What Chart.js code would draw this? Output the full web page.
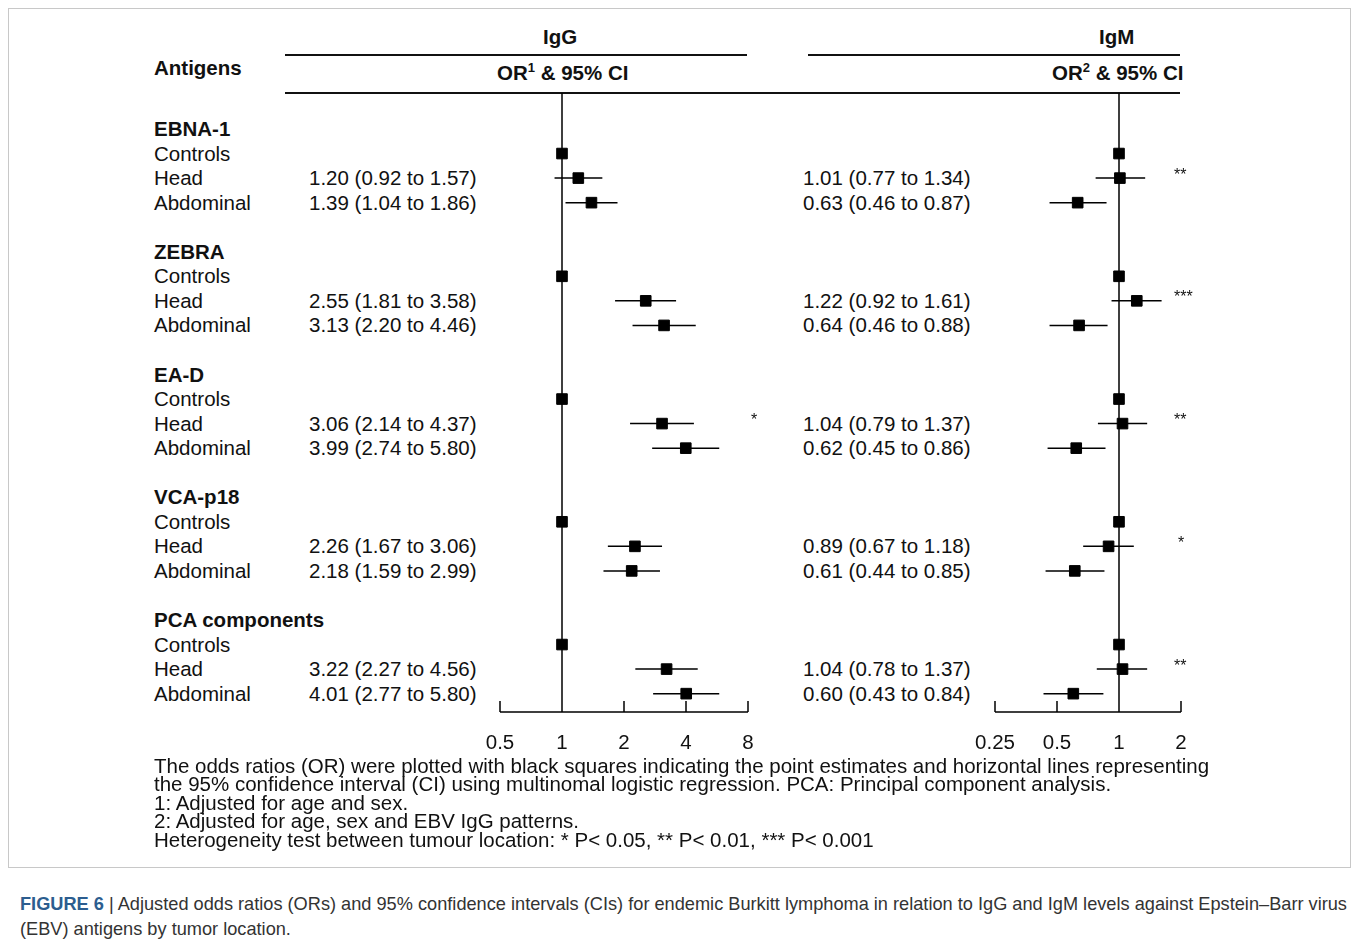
<!DOCTYPE html>
<html><head><meta charset="utf-8">
<script src="https://cdn.jsdelivr.net/npm/chart.js@4"></script>
<style>
body{margin:0;width:1358px;height:945px;background:#fff;font-family:"Liberation Sans",Arial,sans-serif;position:relative;overflow:hidden}
.t{position:absolute;font-size:20.5px;line-height:24px;color:#111;white-space:nowrap}
.b{font-weight:bold}
#frame{position:absolute;left:8px;top:8px;width:1341px;height:858px;border:1px solid #c8c8c8}
.hl{position:absolute;height:1.5px;background:#111}
canvas{position:absolute}
#notes{position:absolute;left:154px;top:757px;font-size:20.5px;line-height:18.4px;color:#111;white-space:nowrap}
#cap{position:absolute;left:20px;top:892px;font-size:18.2px;line-height:25px;color:#333;width:1335px}
</style></head><body>
<div id="frame"></div>
<div id="txt"></div>
<div class="hl" style="left:285px;top:54px;width:462px"></div>
<div class="hl" style="left:808px;top:54px;width:372px"></div>
<div class="hl" style="left:285px;top:92px;width:895px"></div>
<div class="t b" style="left:543px;top:25px">IgG</div>
<div class="t b" style="left:1099px;top:25px">IgM</div>
<div class="t b" style="left:154px;top:56px">Antigens</div>
<div class="t b" style="left:497px;top:56px">OR<sup style="font-size:13px">1</sup> &amp; 95% CI</div>
<div class="t b" style="left:1052px;top:56px">OR<sup style="font-size:13px">2</sup> &amp; 95% CI</div>
<canvas id="g"></canvas>
<canvas id="m"></canvas>
<div id="notes">The odds ratios (OR) were plotted with black squares indicating the point estimates and horizontal lines representing<br>the 95% confidence interval (CI) using multinomal logistic regression. PCA: Principal component analysis.<br>1: Adjusted for age and sex.<br>2: Adjusted for age, sex and EBV IgG patterns.<br>Heterogeneity test between tumour location: * P&lt; 0.05, ** P&lt; 0.01, *** P&lt; 0.001</div>
<div id="cap"><b style="color:#2c5d8f">FIGURE 6</b> | Adjusted odds ratios (ORs) and 95% confidence intervals (CIs) for endemic Burkitt lymphoma in relation to IgG and IgM levels against Epstein–Barr virus (EBV) antigens by tumor location.</div>
<script>
const antigens = ['EBNA-1', 'ZEBRA', 'EA-D', 'VCA-p18', 'PCA components'];
const groups = ['Controls', 'Head', 'Abdominal'];
const iggOR = [1, 1.20, 1.39, 1, 2.55, 3.13, 1, 3.06, 3.99, 1, 2.26, 2.18, 1, 3.22, 4.01];
const iggLo = [null, 0.92, 1.04, null, 1.81, 2.20, null, 2.14, 2.74, null, 1.67, 1.59, null, 2.27, 2.77];
const iggHi = [null, 1.57, 1.86, null, 3.58, 4.46, null, 4.37, 5.80, null, 3.06, 2.99, null, 4.56, 5.80];
const igmOR = [1, 1.01, 0.63, 1, 1.22, 0.64, 1, 1.04, 0.62, 1, 0.89, 0.61, 1, 1.04, 0.60];
const igmLo = [null, 0.77, 0.46, null, 0.92, 0.46, null, 0.79, 0.45, null, 0.67, 0.44, null, 0.78, 0.43];
const igmHi = [null, 1.34, 0.87, null, 1.61, 0.88, null, 1.37, 0.86, null, 1.18, 0.85, null, 1.37, 0.84];
const iggStars = ['', '', '', '', '', '', '', '*', '', '', '', '', '', '', ''];
const igmStars = ['', '**', '', '', '***', '', '', '**', '', '', '*', '', '', '**', ''];
const iggTicks = [0.5, 1, 2, 4, 8];
const igmTicks = [0.25, 0.5, 1, 2];

const ROW0 = 129, ROWH = 24.55, TOP = 93, BOT = 712;
const rowOf = k => Math.floor(k / 3) * 5 + 1 + (k % 3);
const fmt = v => v.toFixed(2);

// text column
let html = '';
antigens.forEach((a, i) => {
  html += `<div class="t b" style="left:154px;top:${ROW0 + ROWH * i * 5 - 12}px">${a}</div>`;
});
iggOR.forEach((v, k) => {
  const y = ROW0 + ROWH * rowOf(k) - 12;
  html += `<div class="t" style="left:154px;top:${y}px">${groups[k % 3]}</div>`;
  if (iggLo[k] != null) {
    html += `<div class="t" style="left:309px;top:${y}px">${fmt(iggOR[k])} (${fmt(iggLo[k])} to ${fmt(iggHi[k])})</div>`;
    html += `<div class="t" style="left:803px;top:${y}px">${fmt(igmOR[k])} (${fmt(igmLo[k])} to ${fmt(igmHi[k])})</div>`;
  }
});
document.getElementById('txt').innerHTML = html;

function forest(id, left, min, max, ors, los, his, stars, ticks) {
  const c = document.getElementById(id);
  const pad = 60;
  const w = Math.round(62 * Math.log2(max / min)) + 2 * pad;
  const h = BOT - TOP + 45;
  c.width = w; c.height = h;
  c.style.left = (left - pad) + 'px';
  c.style.top = TOP + 'px';
  c.style.width = w + 'px';
  c.style.height = h + 'px';
  const yMin = (TOP - ROW0) / ROWH, yMax = (BOT - ROW0) / ROWH;
  const pts = ors.map((v, k) => ({x: v, y: rowOf(k)}));
  new Chart(c, {
    type: 'scatter',
    data: {datasets: [{data: pts, pointStyle: 'rect', pointRadius: 7.5, backgroundColor: '#000', borderColor: '#000'}]},
    options: {
      responsive: false, animation: false, devicePixelRatio: 1,
      layout: {autoPadding: false, padding: {left: pad, right: pad, top: 0, bottom: 45}},
      plugins: {legend: {display: false}, tooltip: {enabled: false}},
      scales: {
        x: {type: 'logarithmic', min: min, max: max, display: false},
        y: {type: 'linear', min: yMin, max: yMax, reverse: true, display: false}
      }
    },
    plugins: [{
      beforeDatasetsDraw(ch) {
        const g = ch.ctx, xs = ch.scales.x, ys = ch.scales.y;
        g.save();
        g.strokeStyle = '#000'; g.lineWidth = 1.5;
        g.beginPath();
        g.moveTo(xs.getPixelForValue(1), ys.getPixelForValue(yMin));
        g.lineTo(xs.getPixelForValue(1), ys.getPixelForValue(yMax));
        ors.forEach((v, k) => {
          if (los[k] == null) return;
          const y = ys.getPixelForValue(rowOf(k));
          g.moveTo(xs.getPixelForValue(los[k]), y);
          g.lineTo(xs.getPixelForValue(his[k]), y);
        });
        const yb = ys.getPixelForValue(yMax);
        g.moveTo(xs.getPixelForValue(min), yb);
        g.lineTo(xs.getPixelForValue(max), yb);
        ticks.forEach(t => {
          g.moveTo(xs.getPixelForValue(t), yb);
          g.lineTo(xs.getPixelForValue(t), yb - 11);
        });
        g.stroke();
        g.fillStyle = '#111';
        g.font = '20.5px "Liberation Sans", Arial, sans-serif';
        g.textAlign = 'center'; g.textBaseline = 'middle';
        ticks.forEach(t => g.fillText(String(t), xs.getPixelForValue(t), yb + 31));
        g.font = '16px "Liberation Sans", Arial, sans-serif';
        g.textAlign = 'left';
        stars.forEach((s, k) => {
          if (s) g.fillText(s, xs.getPixelForValue(max) + (s.length > 1 ? -7 : -3) + (id === 'g' ? 6 : 0), ys.getPixelForValue(rowOf(k)) - 3);
        });
        g.restore();
      }
    }]
  });
}
forest('g', 500, 0.5, 8, iggOR, iggLo, iggHi, iggStars, iggTicks);
forest('m', 995, 0.25, 2, igmOR, igmLo, igmHi, igmStars, igmTicks);
</script>
</body></html>
